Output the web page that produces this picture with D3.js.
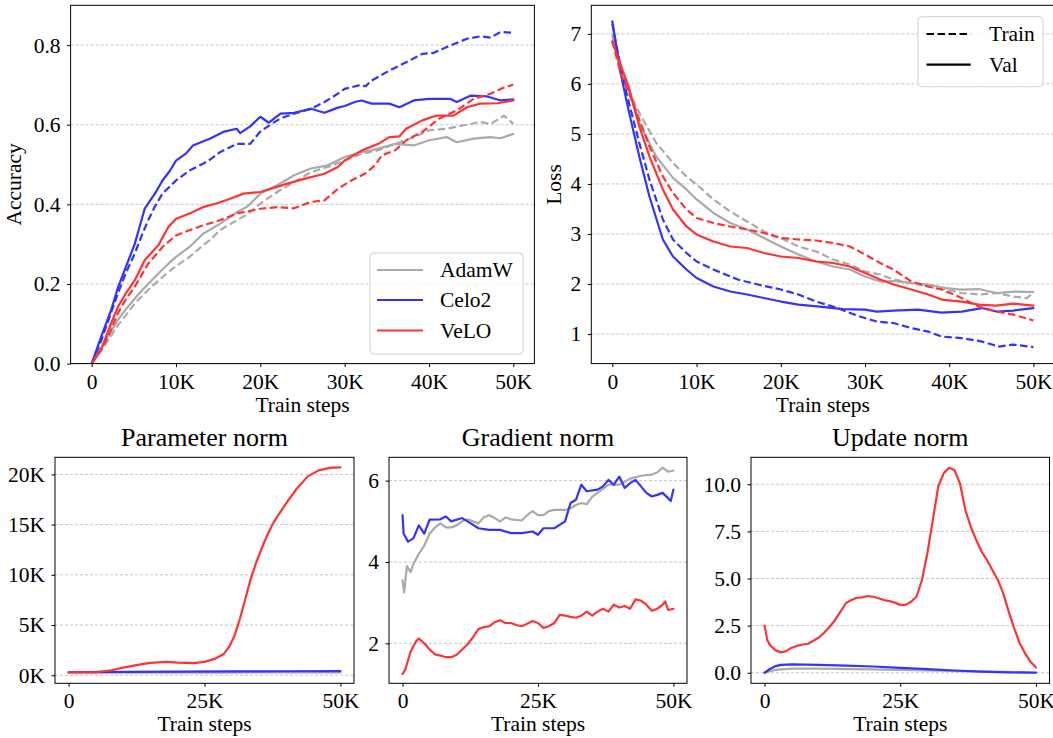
<!DOCTYPE html>
<html><head><meta charset="utf-8">
<script src="https://cdn.jsdelivr.net/npm/d3@7"></script>
<style>
html,body{margin:0;padding:0;background:#fff;}
svg{display:block;}
text{font-family:"Liberation Serif","Times New Roman",Times,serif;fill:#000;}
</style></head>
<body><svg id="chart" width="1053" height="738"></svg>
<script>
// ---------- DATA (steps in thousands) ----------
const optimizers = ["AdamW", "Celo2", "VeLO"];
const colors = ["#aaaaaa", "#3333ff", "#ff3333"];
const splitLabels = ["Train", "Val"];

const xTicksTop = [0, 10, 20, 30, 40, 50];
const xTicksBottom = [0, 25, 50];
const accTicks = [0.0, 0.2, 0.4, 0.6, 0.8];
const lossTicks = [1, 2, 3, 4, 5, 6, 7];
const paramTicks = [0, 5, 10, 15, 20];
const gradTicks = [2, 4, 6];
const updateTicks = [0, 2.5, 5, 7.5, 10];

// Accuracy
const accAdamWTrain = [[0,0],[1,0.03],[2,0.06],[3.1,0.096],[4,0.12],[5.1,0.151],[6,0.17],[7.1,0.193],[8,0.21],[9.1,0.23],[10,0.245],[11.6,0.268],[13.2,0.297],[14,0.31],[15.2,0.335],[17.2,0.36],[18.5,0.375],[20,0.402],[22,0.431],[24,0.456],[26,0.481],[28,0.494],[30,0.51],[32,0.527],[34,0.536],[36,0.552],[38.2,0.569],[40,0.586],[42.1,0.59],[44,0.598],[46.1,0.607],[47.3,0.602],[48.9,0.623],[50,0.602]];
const accAdamWVal = [[0,0],[1,0.035],[2,0.07],[3.1,0.109],[4,0.135],[5.1,0.163],[6,0.185],[7.1,0.209],[8,0.228],[9.1,0.251],[10,0.268],[11.6,0.293],[13.2,0.326],[15.2,0.351],[17.2,0.38],[18.5,0.395],[20,0.427],[22,0.448],[24,0.473],[26,0.49],[28,0.498],[30,0.519],[32,0.531],[34,0.54],[36,0.552],[38.2,0.548],[40,0.561],[42.1,0.569],[43.3,0.556],[45.3,0.565],[47.3,0.569],[48.5,0.566],[50,0.577]];
const accCelo2Train = [[0,0],[1,0.05],[2,0.11],[3.1,0.176],[4,0.225],[5.1,0.276],[6,0.325],[6.7,0.36],[7.5,0.395],[8.4,0.427],[10,0.46],[11.6,0.485],[13.2,0.502],[14,0.512],[15.2,0.531],[17.2,0.552],[18.8,0.552],[20,0.583],[21.2,0.6],[22.4,0.616],[24,0.628],[26,0.64],[27.6,0.657],[29.2,0.678],[30,0.69],[31.7,0.699],[32.5,0.697],[33.2,0.711],[35.3,0.736],[37.3,0.757],[39.2,0.778],[40.5,0.78],[42.1,0.795],[44.5,0.816],[46.1,0.822],[47.3,0.819],[48.5,0.833],[50,0.831]];
const accCelo2Val = [[0,0],[1,0.06],[2.3,0.134],[3.1,0.19],[4,0.24],[5.1,0.3],[5.9,0.36],[6.3,0.39],[7.5,0.427],[8.4,0.46],[9.3,0.485],[10,0.51],[11.2,0.528],[12,0.548],[14,0.565],[15.6,0.582],[17.2,0.59],[17.6,0.579],[18.8,0.596],[20,0.62],[21,0.605],[22.4,0.628],[24,0.63],[26,0.64],[27.6,0.63],[29.2,0.643],[30,0.647],[31.2,0.657],[32,0.661],[33.2,0.653],[35.3,0.653],[36.5,0.644],[38.2,0.661],[40,0.665],[42.5,0.665],[43.3,0.657],[44.9,0.673],[46.9,0.671],[48.5,0.661],[50,0.664]];
const accVeLOTrain = [[0,0],[1.1,0.035],[2,0.07],[3.1,0.126],[4,0.16],[5.1,0.193],[6.7,0.251],[8.4,0.293],[10,0.322],[11.6,0.335],[13.2,0.347],[15.2,0.36],[17.2,0.377],[20,0.389],[22,0.393],[24,0.39],[26,0.406],[27.6,0.41],[29.2,0.439],[30.8,0.46],[32.4,0.477],[33.6,0.498],[34.4,0.523],[36,0.536],[37.3,0.561],[39.2,0.582],[41.2,0.615],[43.3,0.636],[45.3,0.665],[47.3,0.678],[48.5,0.69],[50,0.701]];
const accVeLOVal = [[0,0],[1.1,0.033],[2,0.085],[3.1,0.142],[4,0.175],[5.1,0.209],[6.3,0.26],[7.9,0.297],[9.1,0.343],[10,0.364],[11.6,0.377],[13.2,0.393],[14.8,0.402],[16.4,0.414],[18,0.427],[20,0.431],[21.2,0.439],[23.2,0.452],[25.2,0.464],[27.6,0.477],[29.2,0.494],[30,0.51],[32,0.535],[34,0.552],[35.3,0.569],[36.5,0.571],[37.3,0.59],[39.2,0.611],[40.9,0.623],[42.9,0.623],[44.5,0.644],[46.1,0.653],[48.1,0.654],[50,0.661]];

// Loss
const lossAdamWTrain = [[0,6.95],[1,6.3],[2,5.85],[3.2,5.42],[5.2,4.82],[7.2,4.42],[8.8,4.15],[10,3.99],[12,3.69],[14,3.45],[16,3.25],[18,3.05],[20,2.92],[22.1,2.75],[24.2,2.65],[26.2,2.49],[28.2,2.39],[30,2.25],[31.8,2.19],[33.4,2.09],[35.5,2.02],[37.5,1.95],[39.5,1.89],[41.5,1.82],[43.5,1.79],[45.6,1.82],[47.6,1.75],[49.2,1.72],[50,1.82]];
const lossAdamWVal = [[0,7.0],[1,6.4],[1.9,5.95],[3.2,5.22],[5.2,4.55],[7.2,4.12],[8.8,3.89],[10,3.69],[12,3.42],[14,3.22],[16,3.09],[18,2.92],[20,2.75],[22.1,2.59],[24.2,2.45],[26.2,2.35],[28.2,2.29],[30,2.15],[31.8,2.05],[33.4,2.06],[35.5,2.02],[37.5,1.99],[39.5,1.92],[41.5,1.89],[43.5,1.9],[45.6,1.82],[47.6,1.85],[50,1.84]];
const lossCelo2Train = [[0,7.2],[1,6.3],[2,5.6],[3.2,4.82],[4.4,4.09],[6,3.29],[7.2,2.89],[8.8,2.62],[10,2.45],[12,2.29],[14.9,2.09],[17.3,1.99],[20,1.89],[22.1,1.79],[24.2,1.65],[26.2,1.55],[27.8,1.45],[29.4,1.35],[31.4,1.25],[33.4,1.22],[35.5,1.12],[37.5,1.05],[39.1,0.95],[41.5,0.92],[43.9,0.85],[45.9,0.75],[47.6,0.79],[50,0.74]];
const lossCelo2Val = [[0,7.25],[1,6.2],[1.9,5.49],[3.2,4.55],[4.4,3.75],[6,2.89],[7.2,2.55],[8.8,2.29],[10,2.12],[12,1.95],[14,1.85],[16,1.79],[18,1.72],[20,1.65],[22.1,1.59],[24.6,1.55],[27.4,1.5],[30,1.49],[31.4,1.45],[33.4,1.47],[36.3,1.49],[39.1,1.43],[41.5,1.45],[43.9,1.52],[45.6,1.45],[47.6,1.47],[50,1.52]];
const lossVeLOTrain = [[0,6.85],[1,6.2],[2,5.8],[3.2,5.29],[4.4,4.75],[6,4.15],[7.2,3.82],[8.8,3.49],[10,3.32],[12,3.22],[14,3.15],[16,3.09],[18,3.02],[20,2.92],[22.1,2.89],[24.2,2.87],[26.2,2.82],[28.2,2.75],[30,2.59],[31.8,2.42],[33.4,2.29],[35.5,2.05],[37.5,1.95],[39.1,1.89],[41.1,1.75],[43.5,1.55],[45.6,1.45],[47.6,1.39],[50,1.27]];
const lossVeLOVal = [[0,6.85],[1,6.35],[1.9,5.95],[3.2,5.15],[4.4,4.55],[6,3.89],[7.2,3.49],[8.8,3.15],[10,2.99],[12,2.85],[14,2.75],[16,2.72],[18,2.62],[20,2.55],[22.1,2.52],[24.2,2.45],[26.2,2.42],[28.2,2.35],[30,2.22],[31.8,2.09],[33.4,1.99],[35.5,1.89],[37.5,1.79],[39.1,1.69],[41.5,1.65],[43.5,1.59],[45.6,1.57],[47.6,1.61],[50,1.57]];

// Parameter norm (K)
const paramAdamW = [[0,0.25],[10,0.25],[20,0.26],[30,0.27],[40,0.28],[50,0.28]];
const paramCelo2 = [[0,0.3],[10,0.33],[20,0.36],[30,0.38],[40,0.4],[50,0.42]];
const paramVeLO = [[0,0.3],[5,0.32],[8,0.5],[10,0.76],[13,1.06],[15,1.23],[18,1.33],[20,1.26],[23,1.2],[25,1.33],[27,1.66],[28.5,2.1],[29.5,2.8],[30.5,3.9],[31.5,5.6],[32.5,7.6],[33.5,9.6],[34.5,11.2],[35.5,12.6],[36.5,13.9],[37.5,15.0],[38.5,15.9],[40,17.1],[42,18.6],[44,19.8],[46,20.4],[48,20.65],[50,20.7]];

// Gradient norm
const gradAdamW = [[0,3.55],[0.3,3.25],[0.8,3.9],[1.5,3.75],[2,3.95],[3,4.2],[4,4.4],[5,4.7],[6,4.85],[7,4.95],[8,4.85],[9,4.85],[10,4.9],[11,5.0],[12,5.05],[14,4.95],[15,5.1],[16,5.15],[17,5.08],[18,5.0],[19,5.1],[20,5.05],[22,5.02],[23,5.15],[24,5.25],[25,5.15],[26,5.15],[27,5.25],[28,5.28],[30,5.28],[31,5.32],[32,5.4],[33,5.45],[34,5.42],[35,5.6],[36,5.7],[37,5.8],[38,5.9],[40,5.9],[42,6.05],[44,6.12],[46,6.15],[47,6.2],[48,6.32],[49,6.22],[50,6.25]];
const gradCelo2 = [[0,5.15],[0.2,4.7],[1,4.5],[2,4.58],[3,4.9],[4,4.7],[5,5.04],[7,5.05],[8,5.12],[9,5.0],[11,5.08],[12,5.0],[14,4.83],[16,4.79],[18,4.79],[20,4.71],[22,4.71],[24,4.75],[25,4.67],[26,4.83],[28,4.83],[30,5.0],[31,5.45],[32,5.53],[33,5.9],[34,5.74],[36,5.78],[37,5.86],[38,6.02],[39,5.9],[40,6.1],[41,5.82],[42,5.94],[43,6.02],[44,5.86],[45,5.7],[46,5.61],[47,5.65],[48,5.7],[49,5.57],[49.5,5.5],[50,5.78]];
const gradVeLO = [[0,1.25],[0.5,1.35],[1.5,1.8],[2.5,2.05],[3,2.12],[4,2.0],[5,1.85],[6,1.73],[7,1.7],[8,1.66],[9,1.66],[10,1.72],[11,1.85],[12,1.98],[13,2.15],[14,2.35],[15,2.4],[16,2.42],[17,2.52],[18,2.57],[19,2.5],[20,2.5],[21,2.45],[22,2.42],[23,2.48],[24,2.55],[25,2.5],[26,2.38],[27,2.42],[28,2.5],[29,2.7],[30,2.68],[31,2.65],[32,2.63],[33,2.68],[34,2.78],[35,2.68],[36,2.78],[37,2.85],[38,2.78],[39,2.95],[40,2.88],[41,2.92],[42,2.85],[43,3.08],[44,3.05],[45,2.95],[46,2.8],[47,2.85],[48,2.95],[48.5,3.03],[49,2.82],[50,2.85]];

// Update norm
const updateAdamW = [[0,0],[1,0.08],[2,0.15],[5,0.22],[10,0.22],[20,0.18],[30,0.12],[40,0.06],[50,0.02]];
const updateCelo2 = [[0,0],[1,0.2],[2,0.35],[3,0.42],[5,0.44],[10,0.42],[15,0.38],[20,0.33],[25,0.26],[30,0.19],[35,0.12],[40,0.06],[45,0.02],[50,0.0]];
const updateVeLO = [[0,2.5],[0.5,1.73],[1,1.47],[2,1.2],[3,1.08],[4,1.15],[5,1.33],[6,1.42],[7,1.5],[8,1.54],[9,1.7],[10,1.87],[11,2.12],[12,2.44],[13,2.8],[14,3.24],[15,3.7],[16,3.86],[17,3.98],[18,4.0],[19,4.07],[20,4.03],[21,3.95],[22,3.86],[23,3.8],[24,3.72],[25,3.6],[26,3.6],[27,3.77],[28,4.03],[29,4.92],[30,6.34],[31,8.1],[32,9.88],[33,10.58],[34,10.88],[35,10.75],[36,10.05],[37,8.63],[38,7.75],[39,7.04],[40,6.42],[41,5.97],[42,5.44],[43,4.91],[44,4.2],[45,3.23],[46,2.35],[47,1.56],[48,1.03],[49,0.58],[50,0.28]];

// ---------- DRAWING ----------
const svg = d3.select("#chart");
const FS = 21.5;

function panel(cfg) {
  const x = d3.scaleLinear().domain([-2.5, 52.5]).range([cfg.left, cfg.right]);
  const y = d3.scaleLinear().domain(cfg.yDomain).range([cfg.bottom, cfg.top]);
  const g = svg.append("g");
  // grid
  g.append("g").selectAll("line").data(cfg.yTicks).join("line")
    .attr("x1", cfg.left).attr("x2", cfg.right)
    .attr("y1", d => y(d)).attr("y2", d => y(d))
    .attr("stroke", "#b8b8b8").attr("stroke-width", 0.8).attr("stroke-dasharray", "3,2");
  // clip
  const cid = "clip" + Math.random().toString(36).slice(2);
  svg.append("clipPath").attr("id", cid).append("rect")
    .attr("x", cfg.left).attr("y", cfg.top).attr("width", cfg.right - cfg.left).attr("height", cfg.bottom - cfg.top);
  const line = d3.line().x(d => x(d[0])).y(d => y(d[1]));
  const lg = g.append("g").attr("clip-path", `url(#${cid})`);
  cfg.series.forEach(s => {
    lg.append("path").datum(s.data).attr("d", line)
      .attr("fill", "none").attr("stroke", s.color).attr("stroke-width", 2.2)
      .attr("stroke-linejoin", "round").attr("stroke-linecap", s.dash ? "butt" : "round")
      .attr("stroke-dasharray", s.dash ? "7.5,3.5" : null);
  });
  // axes
  const xa = d3.axisBottom(x).tickValues(cfg.xTicks).tickSize(3.5).tickPadding(6.2)
    .tickFormat(d => d === 0 ? "0" : d + "K");
  const ya = d3.axisLeft(y).tickValues(cfg.yTicks).tickSize(3.5).tickPadding(6.5).tickFormat(cfg.yFmt);
  const gx = g.append("g").attr("transform", `translate(0,${cfg.bottom})`).call(xa);
  const gy = g.append("g").attr("transform", `translate(${cfg.left},0)`).call(ya);
  [gx, gy].forEach(a => {
    a.select(".domain").remove();
    a.selectAll("line").attr("stroke", "#000").attr("stroke-width", 1);
    a.selectAll("text").attr("font-size", FS).attr("font-family", "Liberation Serif, Times New Roman, serif").attr("fill", "#000");
  });
  // spines
  g.append("rect").attr("x", cfg.left).attr("y", cfg.top)
    .attr("width", cfg.right - cfg.left).attr("height", cfg.bottom - cfg.top)
    .attr("fill", "none").attr("stroke", "#000").attr("stroke-width", 1);
  // x label
  g.append("text").attr("x", (cfg.left + cfg.right) / 2).attr("y", cfg.bottom + 48)
    .attr("text-anchor", "middle").attr("font-size", FS).text("Train steps");
  if (cfg.ylabel) {
    g.append("text").attr("transform", `translate(${cfg.ylabelX},${(cfg.top + cfg.bottom) / 2}) rotate(-90)`)
      .attr("text-anchor", "middle").attr("font-size", FS).text(cfg.ylabel);
  }
  if (cfg.title) {
    g.append("text").attr("x", (cfg.left + cfg.right) / 2).attr("y", cfg.top - 11)
      .attr("text-anchor", "middle").attr("font-size", 26).text(cfg.title);
  }
  return g;
}

const accSeries = [
  {data: accAdamWTrain, color: colors[0], dash: true},
  {data: accAdamWVal, color: colors[0]},
  {data: accCelo2Train, color: colors[1], dash: true},
  {data: accCelo2Val, color: colors[1]},
  {data: accVeLOTrain, color: colors[2], dash: true},
  {data: accVeLOVal, color: colors[2]}
];
const accG = panel({left: 70.6, right: 534.4, top: 5.3, bottom: 363.6, yDomain: [0, 0.9],
  yTicks: accTicks, xTicks: xTicksTop, yFmt: d3.format(".1f"), series: accSeries, ylabel: "Accuracy", ylabelX: 21});

const lossSeries = [
  {data: lossAdamWTrain, color: colors[0], dash: true},
  {data: lossAdamWVal, color: colors[0]},
  {data: lossCelo2Train, color: colors[1], dash: true},
  {data: lossCelo2Val, color: colors[1]},
  {data: lossVeLOTrain, color: colors[2], dash: true},
  {data: lossVeLOVal, color: colors[2]}
];
const lossG = panel({left: 591.3, right: 1054.5, top: 5.3, bottom: 363.6, yDomain: [0.41, 7.57],
  yTicks: lossTicks, xTicks: xTicksTop, yFmt: d3.format("d"), series: lossSeries, ylabel: "Loss", ylabelX: 560.5});

panel({left: 55, right: 354, top: 457.3, bottom: 683.3, yDomain: [-0.8, 21.7],
  yTicks: paramTicks, xTicks: xTicksBottom, yFmt: d => d + "K", title: "Parameter norm",
  series: [{data: paramAdamW, color: colors[0]}, {data: paramCelo2, color: colors[1]}, {data: paramVeLO, color: colors[2]}]});
panel({left: 389, right: 687, top: 457.3, bottom: 683.3, yDomain: [1.018, 6.574],
  yTicks: gradTicks, xTicks: xTicksBottom, yFmt: d3.format("d"), title: "Gradient norm",
  series: [{data: gradAdamW, color: colors[0]}, {data: gradCelo2, color: colors[1]}, {data: gradVeLO, color: colors[2]}]});
panel({left: 751, right: 1049.5, top: 457.3, bottom: 683.3, yDomain: [-0.56, 11.43],
  yTicks: updateTicks, xTicks: xTicksBottom, yFmt: d3.format(".1f"), title: "Update norm",
  series: [{data: updateAdamW, color: colors[0]}, {data: updateCelo2, color: colors[1]}, {data: updateVeLO, color: colors[2]}]});

// Legends
function legend(x0, y0, w, h, items, textX, handleX0, handleX1, rowY) {
  const g = svg.append("g");
  g.append("rect").attr("x", x0).attr("y", y0).attr("width", w).attr("height", h).attr("rx", 4)
    .attr("fill", "#fff").attr("fill-opacity", 0.8).attr("stroke", "#d0d0d0").attr("stroke-width", 1);
  items.forEach((it, i) => {
    const yy = rowY[i];
    g.append("line").attr("x1", handleX0).attr("x2", handleX1).attr("y1", yy).attr("y2", yy)
      .attr("stroke", it.color).attr("stroke-width", 2.2).attr("stroke-dasharray", it.dash ? "7.5,3.5" : null);
    g.append("text").attr("x", textX).attr("y", yy + 7).attr("font-size", FS).text(it.label);
  });
}
legend(370, 253, 153, 101, optimizers.map((o, i) => ({label: o, color: colors[i]})), 440, 377, 423, [270, 300, 330.5]);
legend(918, 16.7, 125, 70, [{label: splitLabels[0], color: "#000", dash: true}, {label: splitLabels[1], color: "#000"}], 989, 926.5, 970.7, [34, 64.6]);
</script></body></html>
